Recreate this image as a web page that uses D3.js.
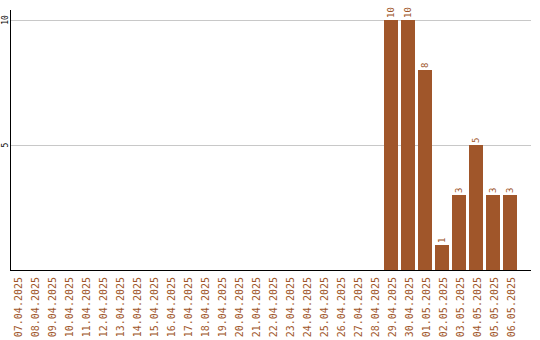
<!DOCTYPE html>
<html>
<head>
<meta charset="utf-8">
<script src="https://cdn.jsdelivr.net/npm/d3@7/dist/d3.min.js"></script>
<style>
  html, body { margin: 0; padding: 0; background: #fff; }
  svg { display: block; }
</style>
</head>
<body>
<svg id="chart" width="540" height="340"></svg>
<script>
// Daily counts, 07.04.2025 – 06.05.2025
const days = [
  "07.04.2025","08.04.2025","09.04.2025","10.04.2025","11.04.2025","12.04.2025",
  "13.04.2025","14.04.2025","15.04.2025","16.04.2025","17.04.2025","18.04.2025",
  "19.04.2025","20.04.2025","21.04.2025","22.04.2025","23.04.2025","24.04.2025",
  "25.04.2025","26.04.2025","27.04.2025","28.04.2025","29.04.2025","30.04.2025",
  "01.05.2025","02.05.2025","03.05.2025","04.05.2025","05.05.2025","06.05.2025"
];
const counts = [
  0,0,0,0,0,0,
  0,0,0,0,0,0,
  0,0,0,0,0,0,
  0,0,0,0,10,10,
  8,1,3,5,3,3
];
const yTicks = [5, 10];

const barColor = "#a0562a";
const font = "'DejaVu Sans Mono', 'Liberation Mono', monospace";

const svg = d3.select("#chart");
const plotLeft = 10, plotRight = 531, plotTop = 10, plotBottom = 270;

const x = d3.scaleBand()
  .domain(days)
  .range([plotLeft, 517])
  .paddingInner(3 / 17)
  .paddingOuter(0);

const y = d3.scaleLinear().domain([0, 10]).range([plotBottom, 20]);

const rows = days.map((d, i) => ({ day: d, v: counts[i] })).filter(d => d.v > 0);

// horizontal gridlines
svg.append("g")
  .selectAll("line")
  .data(yTicks)
  .join("line")
  .attr("x1", plotLeft).attr("x2", plotRight)
  .attr("y1", d => Math.round(y(d)) + 0.5).attr("y2", d => Math.round(y(d)) + 0.5)
  .attr("stroke", "#c8c8c8").attr("stroke-width", 1);

// y tick labels (rotated)
svg.append("g")
  .selectAll("text")
  .data(yTicks)
  .join("text")
  .attr("transform", d => `translate(5,${y(d)}) rotate(-90)`)
  .attr("text-anchor", "middle")
  .attr("dominant-baseline", "central")
  .attr("font-family", font)
  .attr("font-size", 8)
  .attr("fill", "#000")
  .text(d => d);

// bars
svg.append("g")
  .selectAll("rect")
  .data(rows)
  .join("rect")
  .attr("x", d => x(d.day))
  .attr("y", d => y(d.v))
  .attr("width", x.bandwidth())
  .attr("height", d => plotBottom - y(d.v))
  .attr("fill", barColor);

// value labels above bars
svg.append("g")
  .selectAll("text")
  .data(rows)
  .join("text")
  .attr("transform", d => `translate(${x(d.day) + x.bandwidth() / 2},${y(d.v) - 2}) rotate(-90)`)
  .attr("text-anchor", "start")
  .attr("dominant-baseline", "central")
  .attr("font-family", font)
  .attr("font-size", 9)
  .attr("fill", barColor)
  .text(d => d.v);

// axis lines
svg.append("line")
  .attr("x1", plotLeft + 0.5).attr("x2", plotLeft + 0.5)
  .attr("y1", plotTop).attr("y2", plotBottom + 1)
  .attr("stroke", "#000").attr("stroke-width", 1);
svg.append("line")
  .attr("x1", plotLeft).attr("x2", plotRight)
  .attr("y1", plotBottom + 0.5).attr("y2", plotBottom + 0.5)
  .attr("stroke", "#000").attr("stroke-width", 1);

// category labels (rotated)
svg.append("g")
  .selectAll("text")
  .data(days)
  .join("text")
  .attr("transform", d => `translate(${x(d) + x.bandwidth() / 2 + 1},277) rotate(-90)`)
  .attr("text-anchor", "end")
  .attr("dominant-baseline", "central")
  .attr("font-family", font)
  .attr("font-size", 10)
  .attr("fill", barColor)
  .text(d => d);
</script>
</body>
</html>
